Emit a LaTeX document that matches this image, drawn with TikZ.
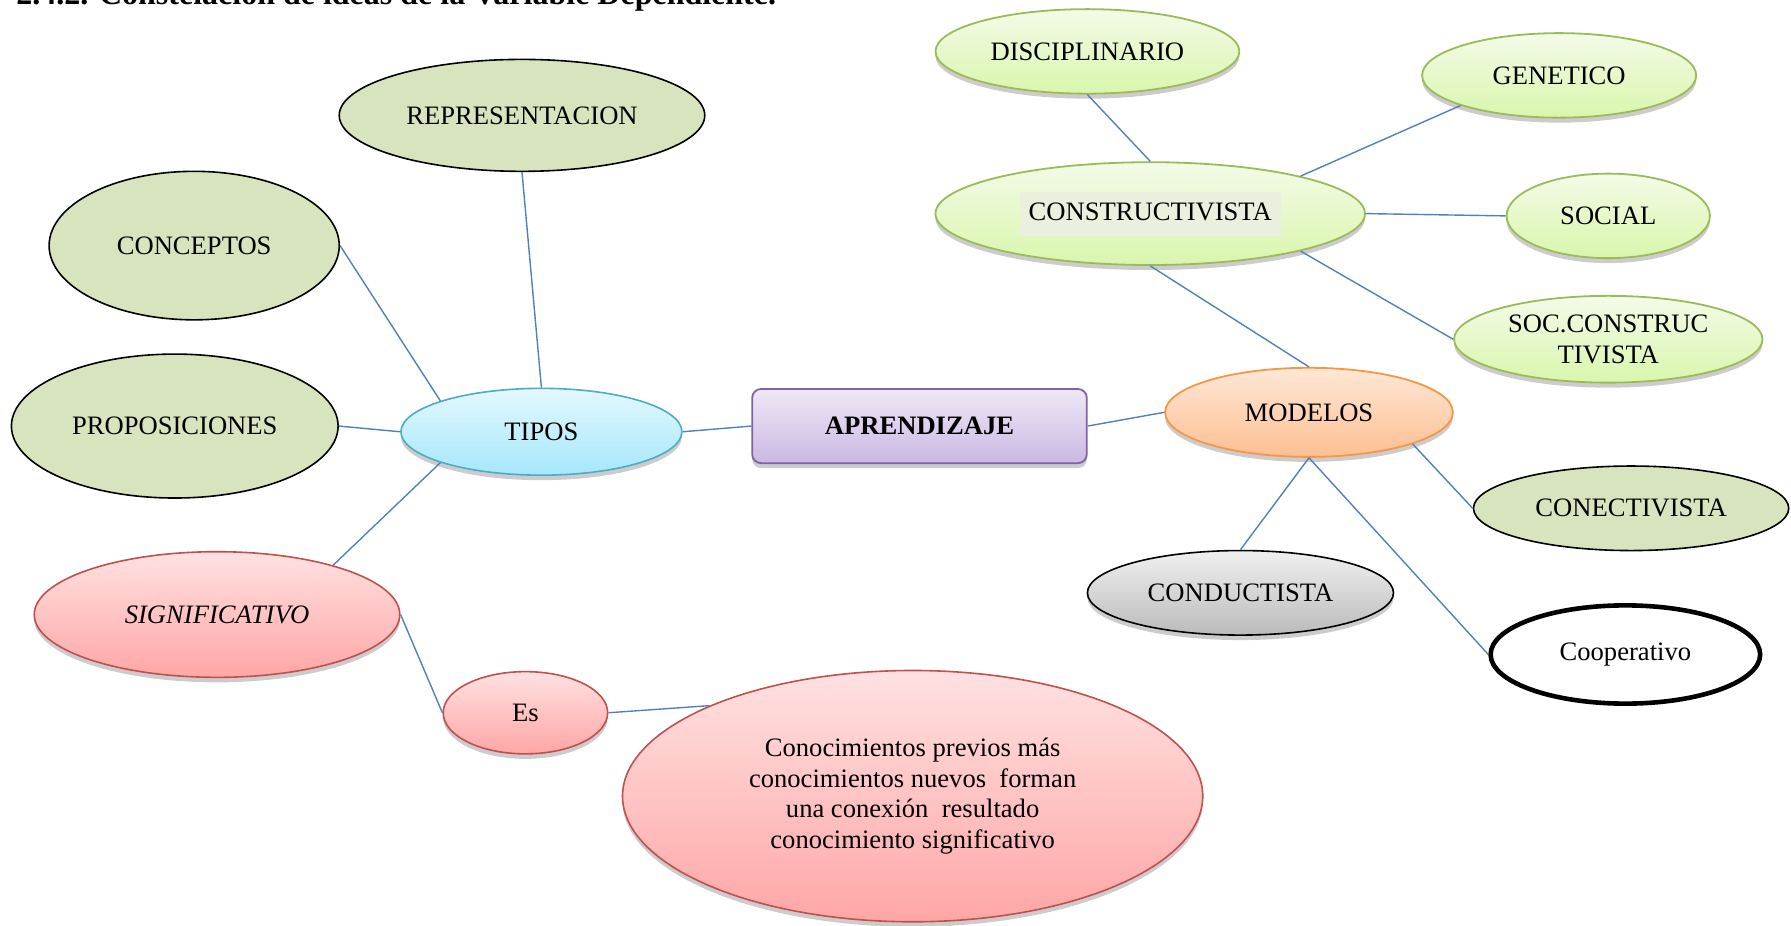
\documentclass[tikz,border=0pt]{standalone}
\usepackage{fontspec}
\setmainfont{Liberation Serif}
\usetikzlibrary{shapes.geometric,shadows,positioning}

\definecolor{linkblue}{HTML}{4F81BD}
\definecolor{olivefill}{HTML}{D7E4BD}
\definecolor{cyanline}{HTML}{4BACC6}
\definecolor{cyantop}{HTML}{E3F8FE}
\definecolor{cyanbot}{HTML}{A6E7FA}
\definecolor{redline}{HTML}{C0504D}
\definecolor{redtop}{HTML}{FFE1E1}
\definecolor{redbot}{HTML}{FFA6A6}
\definecolor{purpline}{HTML}{8064A2}
\definecolor{purptop}{HTML}{EFE8F7}
\definecolor{purpbot}{HTML}{CBB8E2}
\definecolor{orangeline}{HTML}{F79646}
\definecolor{orangetop}{HTML}{FFE8D6}
\definecolor{orangebot}{HTML}{FDBF92}
\definecolor{limeline}{HTML}{9BBB59}
\definecolor{limetop}{HTML}{F3FBE8}
\definecolor{limebot}{HTML}{D9F6AC}
\definecolor{graytop}{HTML}{F0F0F0}
\definecolor{graybot}{HTML}{BBBBBB}
\definecolor{constrbg}{HTML}{EAF0DD}

\newcommand{\pxu}{0.5711pt}

\begin{document}
\begin{tikzpicture}[x=0.5711pt,y=-0.5711pt,
  font=\fontsize{13.3}{15.4}\selectfont,
  ell/.style 2 args={ellipse,inner sep=0pt,align=center,
    minimum width=2*#1*\pxu,minimum height=2*#2*\pxu},
  shad/.style={drop shadow={shadow xshift=0pt,shadow yshift=-2.5pt,opacity=0.2,fill=black}},
  olivebox/.style={fill=olivefill,draw=black,line width=0.8pt},
  cyanbox/.style={shad,top color=cyantop,bottom color=cyanbot,draw=cyanline,line width=0.8pt},
  redbox/.style={shad,top color=redtop,bottom color=redbot,draw=redline,line width=0.8pt},
  purpbox/.style={shad,top color=purptop,bottom color=purpbot,draw=purpline,line width=0.9pt},
  orangebox/.style={shad,top color=orangetop,bottom color=orangebot,draw=orangeline,line width=0.9pt},
  limebox/.style={shad,top color=limetop,bottom color=limebot,draw=limeline,line width=0.9pt},
  graybox/.style={shad,top color=graytop,bottom color=graybot,draw=black,line width=0.8pt},
  link/.style={draw=linkblue,line width=0.7pt}]

  \useasboundingbox (0,0) rectangle (1568,810);

  \node[anchor=base west,inner sep=0pt,font=\bfseries\fontsize{16}{18}\selectfont] (title) at (14,4)
    {2.4.2. Constelación de ideas de la Variable Dependiente.};

  %%%%

  \node[purpbox,rounded corners=4.5pt,minimum width=293*\pxu,minimum height=65*\pxu,
    font=\bfseries\fontsize{13.3}{15.4}\selectfont] (aprend) at (805,373) {APRENDIZAJE};

  \node[ell={123}{38},cyanbox] (tipos) at (474,378) {TIPOS};
  \node[ell={160}{49},olivebox] (repre) at (457,101) {REPRESENTACION};
  \node[ell={127}{65},olivebox] (concep) at (170,215) {CONCEPTOS};
  \node[ell={143}{63},olivebox] (propos) at (153,373) {PROPOSICIONES};
  \node[ell={160}{55},redbox,font=\itshape\fontsize{13.3}{15.4}\selectfont] (signif) at (190,538) {SIGNIFICATIVO};
  \node[ell={72}{36},redbox] (es) at (460,624) {Es};
  \node[ell={254}{110},redbox] (conoc) at (799,697)
    {Conocimientos previos más\\conocimientos nuevos~ forman\\una conexión~ resultado\\conocimiento significativo};

  %%%%

  \node[ell={126}{39},orangebox] (modelos) at (1146,361) {MODELOS};
  \node[ell={188}{45},limebox] (constr) at (1007,187)
    {\setlength{\fboxsep}{4.5pt}\colorbox{constrbg}{\rule[-3pt]{0pt}{13pt}CONSTRUCTIVISTA}};
  \node[ell={133}{37},limebox] (discip) at (952,45) {DISCIPLINARIO};
  \node[ell={120}{37},limebox] (genet) at (1365,66) {GENETICO};
  \node[ell={89}{37},limebox] (social) at (1408,189) {SOCIAL};
  \node[ell={135}{38},limebox] (socconst) at (1408,297) {SOC.CONSTRUC\\TIVISTA};
  \node[ell={138}{37},olivebox] (conect) at (1428,445) {CONECTIVISTA};
  \node[ell={134}{37},graybox] (conduct) at (1086,519) {CONDUCTISTA};
  \node[ell={118}{43},fill=white,draw=black,line width=2.3pt] (coop) at (1423,573) {Cooperativo};

  %%%%

  \draw[link] (repre.south) -- (tipos.north);
  \draw[link] (concep.east) -- (tipos.163);
  \draw[link] (propos.east) -- (tipos.west);
  \draw[link] (tipos.197) -- (signif.23);
  \draw[link] (tipos.east) -- (aprend.west);
  \draw[link] (signif.east) -- (es.west);
  \draw[link] (es.east) -- (conoc.156);

  \draw[link] (aprend.east) -- (modelos.west);
  \draw[link] (constr.south) -- (modelos.north);
  \draw[link] (constr.north) -- (discip.south);
  \draw[link] (constr.14) -- (genet.197);
  \draw[link] (constr.east) -- (social.west);
  \draw[link] (constr.346) -- (socconst.west);
  \draw[link] (modelos.343) -- (conect.west);
  \draw[link] (modelos.south) -- (conduct.north);
  \draw[link] (modelos.south) -- (coop.west);

\end{tikzpicture}
\end{document}
